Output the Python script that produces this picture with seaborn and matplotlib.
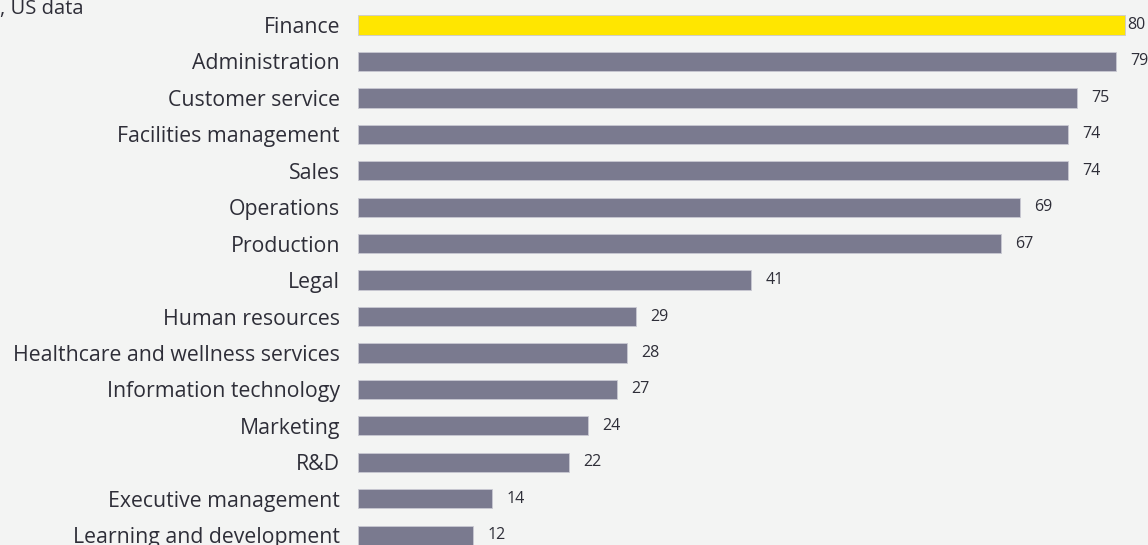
import matplotlib
matplotlib.use("Agg")
import matplotlib.pyplot as plt
import seaborn as sns
import pandas as pd

categories = ["Finance", "Administration", "Customer service", "Facilities management",
              "Sales", "Operations", "Production", "Legal", "Human resources",
              "Healthcare and wellness services", "Information technology", "Marketing",
              "R&D", "Executive management", "Learning and development"]
values = [80, 79, 75, 74, 74, 69, 67, 41, 29, 28, 27, 24, 22, 14, 12]
subtitle = ", US data"

bg = "#f3f4f3"
grey = "#7a7a8f"
yellow = "#ffe600"
text_col = "#2e2e38"

sns.set_style("white")
plt.rcParams["font.family"] = ["Open Sans", "DejaVu Sans"]

df = pd.DataFrame({"category": categories, "value": values})
palette = [yellow] + [grey] * (len(categories) - 1)

fig = plt.figure(figsize=(11.48, 5.45), dpi=100, facecolor=bg)
ax = fig.add_axes([358 / 1148, 0, 790 / 1148, 1])
ax.set_facecolor(bg)

sns.barplot(data=df, x="value", y="category", hue="category", palette=palette,
            legend=False, width=0.53, ax=ax, saturation=1,
            edgecolor="#c9c9d2", linewidth=0.6)

ax.set_xlim(0, 790 / 9.59)
ax.set_ylim(14.27, -0.686)
for s in ax.spines.values():
    s.set_visible(False)
ax.set_xticks([])
ax.set_xlabel("")
ax.set_ylabel("")
ax.tick_params(axis="y", length=0, pad=13, labelsize=15.3, labelcolor=text_col)

for i, v in enumerate(values):
    off = 0.2 if i == 0 else 1.5
    ax.text(v + off, i, str(v), va="center", ha="left", fontsize=11.5, color=text_col)

fig.text(0, 1 - 9 / 545, subtitle, ha="left", va="center", fontsize=14.5, color=text_col)

fig.savefig("out.png", dpi=100, facecolor=bg)
